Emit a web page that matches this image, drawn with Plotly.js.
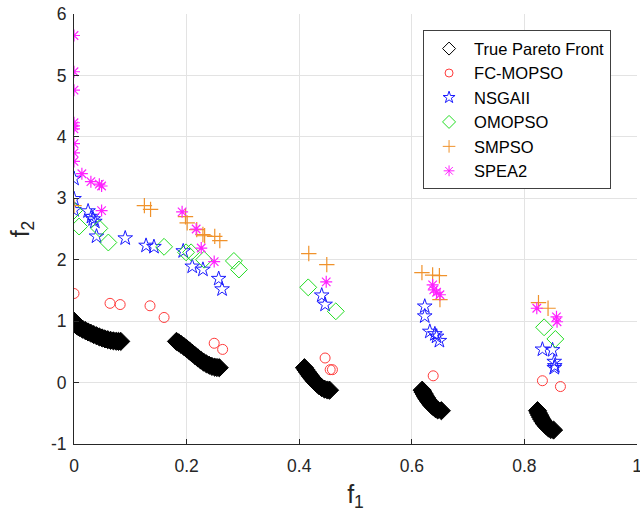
<!DOCTYPE html>
<html>
<head>
<meta charset="utf-8">
<script src="https://cdn.plot.ly/plotly-3.0.1.min.js"></script>
<style>html,body{margin:0;padding:0;background:#fff;}#chart{width:640px;height:518px;}</style>
</head>
<body>
<div id="chart"></div>
<script>
// True Pareto Front (read along the five black bands)
const paretoX = [0, 0.0025, 0.005, 0.0075, 0.01, 0.015, 0.02, 0.025, 0.03, 0.035, 0.04, 0.045, 0.05, 0.055, 0.06, 0.065, 0.07, 0.075, 0.079, 0.083,
  0.182, 0.186, 0.19, 0.195, 0.20, 0.205, 0.21, 0.215, 0.22, 0.225, 0.23, 0.235, 0.24, 0.245, 0.25, 0.254, 0.258,
  0.4093, 0.412, 0.415, 0.4175, 0.42, 0.4225, 0.425, 0.4275, 0.43, 0.4325, 0.435, 0.44, 0.445, 0.45, 0.4539,
  0.6184, 0.620, 0.622, 0.624, 0.626, 0.628, 0.63, 0.632, 0.634, 0.636, 0.638, 0.642, 0.646, 0.6525,
  0.8233, 0.825, 0.827, 0.829, 0.831, 0.833, 0.835, 0.837, 0.839, 0.843, 0.847, 0.8518];
const paretoY = [1.0, 0.950, 0.928, 0.911, 0.897, 0.870, 0.847, 0.824, 0.803, 0.782, 0.762, 0.743, 0.726, 0.711, 0.698, 0.687, 0.679, 0.673, 0.671, 0.670,
  0.670, 0.648, 0.623, 0.589, 0.553, 0.515, 0.477, 0.439, 0.402, 0.367, 0.334, 0.306, 0.282, 0.263, 0.250, 0.245, 0.242,
  0.242, 0.206, 0.168, 0.136, 0.105, 0.076, 0.048, 0.021, -0.004, -0.026, -0.047, -0.082, -0.107, -0.121, -0.124,
  -0.124, -0.155, -0.185, -0.217, -0.248, -0.276, -0.303, -0.328, -0.352, -0.373, -0.392, -0.423, -0.445, -0.458,
  -0.457, -0.494, -0.530, -0.565, -0.599, -0.629, -0.658, -0.683, -0.706, -0.741, -0.764, -0.773];

const fcX = [0.0, 0.064, 0.082, 0.135, 0.160, 0.249, 0.264, 0.446, 0.455, 0.459, 0.638, 0.832, 0.864];
const fcY = [1.45, 1.29, 1.27, 1.25, 1.06, 0.64, 0.54, 0.40, 0.21, 0.21, 0.11, 0.03, -0.065];

const nsgaX = [0.0, 0.0, 0.0, 0.025, 0.031, 0.034, 0.037, 0.040, 0.091, 0.128, 0.142, 0.194, 0.210, 0.229, 0.257, 0.263,
  0.440, 0.446, 0.623, 0.623, 0.632, 0.641, 0.644, 0.649, 0.832, 0.850, 0.853, 0.854, 0.853];
const nsgaY = [3.32, 2.99, 2.81, 2.79, 2.70, 2.66, 2.62, 2.38, 2.35, 2.23, 2.21, 2.14, 1.89, 1.84, 1.69, 1.52,
  1.42, 1.27, 1.24, 1.08, 0.83, 0.79, 0.75, 0.68, 0.54, 0.53, 0.34, 0.27, 0.24];

const omoX = [0.0, 0.009, 0.045, 0.061, 0.160, 0.199, 0.208, 0.231, 0.284, 0.293, 0.416, 0.465, 0.835, 0.855];
const omoY = [2.80, 2.54, 2.51, 2.28, 2.21, 2.12, 2.12, 2.00, 1.98, 1.84, 1.55, 1.16, 0.90, 0.71];

const smX = [0.0, 0.125, 0.136, 0.198, 0.201, 0.218, 0.229, 0.232, 0.250, 0.259, 0.417, 0.449, 0.618, 0.637, 0.649, 0.650, 0.825, 0.842];
const smY = [2.88, 2.88, 2.82, 2.70, 2.60, 2.49, 2.41, 2.39, 2.38, 2.31, 2.10, 1.92, 1.79, 1.75, 1.74, 1.35, 1.30, 1.21];

const speaX = [0, 0, 0, 0, 0, 0, 0, 0, 0, 0.014, 0.030, 0.045, 0.049, 0.049, 0.192, 0.217, 0.226, 0.249,
  0.448, 0.637, 0.639, 0.644, 0.650, 0.822, 0.857, 0.858];
const speaY = [5.65, 5.06, 4.76, 4.23, 4.18, 4.13, 3.89, 3.74, 3.60, 3.40, 3.27, 3.23, 3.20, 2.80, 2.78, 2.50, 2.19, 1.97,
  1.64, 1.59, 1.51, 1.47, 1.43, 1.21, 1.07, 0.99];

const seriesNames = ['True Pareto Front', 'FC-MOPSO', 'NSGAII', 'OMOPSO', 'SMPSO', 'SPEA2'];

const xTicks = [0, 0.2, 0.4, 0.6, 0.8, 1];
const xTickText = ['0', '0.2', '0.4', '0.6', '0.8', '1'];
const yTicks = [-1, 0, 1, 2, 3, 4, 5, 6];
const yTickText = ['-1', '0', '1', '2', '3', '4', '5', '6'];

const styles = [
  {symbol: 'diamond', fill: '#ffffff', color: '#000000', size: 13, lsize: 10, lw: 1},
  {symbol: 'circle-open', fill: '#ff3b3b', color: '#ff3b3b', size: 10, lsize: 8, lw: 1},
  {symbol: 'star-open', fill: '#1a1aff', color: '#1a1aff', size: 11, lsize: 9, lw: 1},
  {symbol: 'diamond-open', fill: '#22dd22', color: '#22dd22', size: 13, lsize: 10, lw: 1},
  {symbol: 'cross-thin-open', fill: '#f0922b', color: '#f0922b', size: 11, lsize: 9, lw: 1.2},
  {symbol: 'asterisk-open', fill: '#ff22ff', color: '#ff22ff', size: 10, lsize: 9, lw: 1.2}
];
const dataX = [paretoX, fcX, nsgaX, omoX, smX, speaX];
const dataY = [paretoY, fcY, nsgaY, omoY, smY, speaY];

const traces = [];
// legend entries (smaller symbols, as in the reference legend)
for (let i = 0; i < seriesNames.length; i++) {
  traces.push({x: [null], y: [null], type: 'scatter', mode: 'markers', name: seriesNames[i], showlegend: true,
    marker: {symbol: styles[i].symbol, size: styles[i].lsize, color: styles[i].fill,
      line: {width: 1, color: styles[i].color}}});
}
// filled band for the true front
traces.push({x: paretoX, y: paretoY, type: 'scatter', mode: 'markers', showlegend: false, hoverinfo: 'skip',
   marker: {symbol: 'diamond', size: 14, color: '#000000', line: {color: '#000000', width: 1}}});
// data traces
for (let i = 1; i < seriesNames.length; i++) {
  traces.push({x: dataX[i], y: dataY[i], type: 'scatter', mode: 'markers', name: seriesNames[i], showlegend: false,
    marker: {symbol: styles[i].symbol, size: styles[i].size, color: styles[i].color,
      line: {width: styles[i].lw, color: styles[i].color}}});
}

const fam = 'Liberation Sans, Arial, sans-serif';
const axisFont = {family: fam, size: 17.5, color: '#262626'};

const layout = {
  width: 640, height: 518,
  margin: {l: 74, r: 3, t: 14, b: 74},
  paper_bgcolor: '#ffffff', plot_bgcolor: '#ffffff',
  showlegend: true,
  legend: {x: 0.62, y: 0.962, xanchor: 'left', yanchor: 'top', itemwidth: 40,
    bgcolor: '#ffffff', bordercolor: '#404040', borderwidth: 1,
    font: {family: fam, size: 16.5, color: '#000000'}},
  xaxis: {range: [0, 1], tickvals: xTicks, ticktext: xTickText, tickfont: axisFont, ticklabeloverflow: 'allow',
    ticklabelstandoff: 6,
    showgrid: true, gridcolor: '#e3e3e3', gridwidth: 1, zeroline: false,
    showline: true, linecolor: '#262626', linewidth: 1, ticks: 'inside', ticklen: 5, tickcolor: '#262626',
    title: {text: 'f<sub>1</sub>', font: {family: fam, size: 25, color: '#262626'}, standoff: 10}},
  yaxis: {range: [-1, 6], tickvals: yTicks, ticktext: yTickText, tickfont: axisFont, ticklabelstandoff: 3,
    showgrid: true, gridcolor: '#e3e3e3', gridwidth: 1, zeroline: false,
    showline: true, linecolor: '#262626', linewidth: 1, ticks: 'inside', ticklen: 5, tickcolor: '#262626',
    title: {text: 'f<sub>2</sub>', font: {family: fam, size: 25, color: '#262626'}, standoff: 14}}
};

Plotly.newPlot('chart', traces, layout, {displayModeBar: false, staticPlot: true});
</script>
</body>
</html>
